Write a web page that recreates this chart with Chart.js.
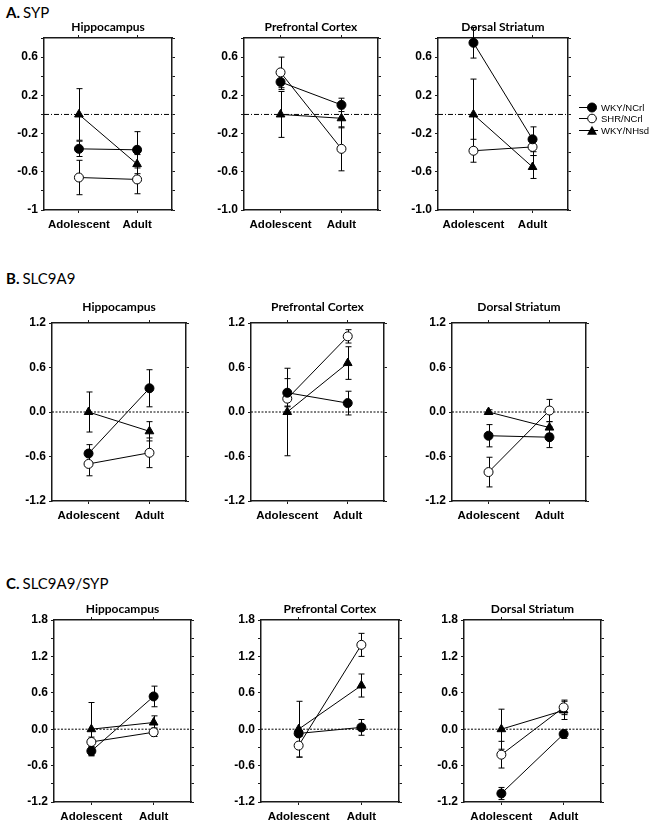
<!DOCTYPE html>
<html>
<head>
<meta charset="utf-8">
<script src="https://cdn.jsdelivr.net/npm/chart.js@4.4.1/dist/chart.umd.min.js"></script>
<style>
  body { margin: 0; background: #fff; width: 658px; height: 826px; position: relative; overflow: hidden; }
  canvas { position: absolute; }
  .plabel { position: absolute; left: 6px; font-family: Lato, "Noto Sans", sans-serif; font-size: 15px; line-height: 16px; color: #000; white-space: nowrap; }
  .plabel b { font-weight: bold; margin-right: 3px; }
  .leg { position: absolute; left: 579px; height: 11px; display: flex; align-items: center; font-family: "Liberation Sans", Arial, sans-serif; font-size: 9.5px; color: #000; z-index: 5; }
  .leg svg { display: block; margin-right: 1px; }
</style>
</head>
<body>
<script>
const ages = ["Adolescent", "Adult"];
const regions = ["Hippocampus", "Prefrontal Cortex", "Dorsal Striatum"];
const groups = ["WKY/NCrl", "SHR/NCrl", "WKY/NHsd"];

// every array: [Hip adolescent, Hip adult, PFC adolescent, PFC adult, DS adolescent, DS adult]
// A. SYP
const sypWkyNcrl = [-0.36, -0.37, 0.34, 0.10, 0.75, -0.26];
const sypShrNcrl = [-0.66, -0.68, 0.44, -0.36, -0.38, -0.34];
const sypWkyNhsd = [0.0, -0.52, 0.0, -0.04, 0.0, -0.55];
const sypWkyNcrlErr = [0.08, 0.19, 0.08, 0.07, 0.16, 0.13];
const sypShrNcrlErr = [0.18, 0.15, 0.16, 0.23, 0.12, 0.09];
const sypWkyNhsdErr = [0.27, 0.10, 0.24, 0.10, 0.37, 0.12];

// B. SLC9A9
const slcWkyNcrl = [-0.56, 0.32, 0.26, 0.12, -0.32, -0.34];
const slcShrNcrl = [-0.70, -0.55, 0.18, 1.02, -0.81, 0.02];
const slcWkyNhsd = [0.0, -0.26, 0.0, 0.66, 0.0, -0.21];
const slcWkyNcrlErr = [0.12, 0.25, 0.19, 0.16, 0.15, 0.14];
const slcShrNcrlErr = [0.16, 0.20, 0.10, 0.09, 0.20, 0.15];
const slcWkyNhsdErr = [0.27, 0.13, 0.59, 0.22, 0.03, 0.08];

// C. SLC9A9/SYP
const ratioWkyNcrl = [-0.36, 0.54, -0.07, 0.03, -1.06, -0.08];
const ratioShrNcrl = [-0.21, -0.05, -0.27, 1.39, -0.42, 0.36];
const ratioWkyNhsd = [0.0, 0.11, 0.0, 0.72, 0.0, 0.31];
const ratioWkyNcrlErr = [0.07, 0.17, 0.05, 0.13, 0.10, 0.07];
const ratioShrNcrlErr = [0.08, 0.07, 0.19, 0.19, 0.22, 0.12];
const ratioWkyNhsdErr = [0.44, 0.11, 0.46, 0.19, 0.33, 0.15];

// y tick labels
const sypTicks = [-1, -0.6, -0.2, 0.2, 0.6];
const sypTickLabelsHip = ["-1", "-0.6", "-0.2", "0.2", "0.6"];
const sypTickLabels = ["-1.0", "-0.6", "-0.2", "0.2", "0.6"];
const slcTicks = [-1.2, -0.6, 0, 0.6, 1.2];
const slcTickLabels = ["-1.2", "-0.6", "0.0", "0.6", "1.2"];
const ratioTicks = [-1.2, -0.6, 0, 0.6, 1.2, 1.8];
const ratioTickLabels = ["-1.2", "-0.6", "0.0", "0.6", "1.2", "1.8"];

const rows = [
  { head: ["A.", "SYP"], headTop: 4,
    means: [sypWkyNcrl, sypShrNcrl, sypWkyNhsd], errs: [sypWkyNcrlErr, sypShrNcrlErr, sypWkyNhsdErr],
    min: -1, max: 0.8, step: 0.2, ticks: sypTicks, tickLabels: [sypTickLabelsHip, sypTickLabels, sypTickLabels],
    titleGap: 1, dash: [5, 2, 1, 2],
    boxes: [[44, 38, 172, 210], [244, 38, 378, 210], [438, 38, 568, 210]] },
  { head: ["B.", "SLC9A9"], headTop: 270,
    means: [slcWkyNcrl, slcShrNcrl, slcWkyNhsd], errs: [slcWkyNcrlErr, slcShrNcrlErr, slcWkyNhsdErr],
    min: -1.2, max: 1.2, step: 0.6, ticks: slcTicks, tickLabels: [slcTickLabels, slcTickLabels, slcTickLabels],
    titleGap: 6, dash: [2, 1.5],
    boxes: [[52, 323, 186, 501], [251, 323, 384, 501], [452, 323, 586, 501]] },
  { head: ["C.", "SLC9A9/SYP"], headTop: 575,
    means: [ratioWkyNcrl, ratioShrNcrl, ratioWkyNhsd], errs: [ratioWkyNcrlErr, ratioShrNcrlErr, ratioWkyNhsdErr],
    min: -1.2, max: 1.8, step: 0.3, ticks: ratioTicks, tickLabels: [ratioTickLabels, ratioTickLabels, ratioTickLabels],
    titleGap: 1, dash: [2, 1.5],
    boxes: [[54, 620, 191, 802], [261, 620, 399, 802], [464, 620, 601, 802]] }
];

const markers = [
  { style: "circle", radius: 4.5, fill: "#000" },
  { style: "circle", radius: 4.5, fill: "#fff" },
  { style: "triangle", radius: 5, fill: "#000" }
];

const yFont = { family: "'Liberation Sans', Arial, sans-serif", weight: "bold", size: 12 };
const xFont = { family: "'Liberation Sans', Arial, sans-serif", weight: "bold", size: 11.5 };
const ink = "#1a1a1a";

// dotted reference line at zero
const zeroLine = {
  id: "zeroLine",
  beforeDatasetsDraw(chart, args, opts) {
    const { ctx, chartArea } = chart;
    const y = chart.scales.y.getPixelForValue(0);
    ctx.save();
    ctx.strokeStyle = "#000";
    ctx.lineWidth = 1;
    ctx.setLineDash(opts.dash || [2, 2]);
    ctx.beginPath();
    ctx.moveTo(chartArea.left, y);
    ctx.lineTo(chartArea.right, y);
    ctx.stroke();
    ctx.restore();
  }
};

// SEM bars behind the markers
const errorBars = {
  id: "errorBars",
  beforeDatasetsDraw(chart) {
    const { ctx } = chart;
    const ys = chart.scales.y;
    ctx.save();
    ctx.strokeStyle = "#000";
    ctx.lineWidth = 1;
    chart.data.datasets.forEach((ds, i) => {
      const meta = chart.getDatasetMeta(i);
      meta.data.forEach((pt, j) => {
        const v = ds.data[j].y, e = ds.errors[j];
        const x = Math.round(pt.x) + 0.5;
        const hi = ys.getPixelForValue(v + e), lo = ys.getPixelForValue(v - e);
        ctx.beginPath();
        ctx.moveTo(x, hi); ctx.lineTo(x, lo);
        ctx.moveTo(x - 3, hi); ctx.lineTo(x + 3, hi);
        ctx.moveTo(x - 3, lo); ctx.lineTo(x + 3, lo);
        ctx.stroke();
      });
    });
    ctx.restore();
  }
};

const gridOpts = { drawOnChartArea: false, tickLength: 3, tickColor: ink, tickWidth: 1 };
const borderOpts = { color: ink, width: 1.5 };

function makePanel(row, r) {
  const [l, t, rt, b] = row.boxes[r];
  const padTop = 4, titleSize = 12, topAxis = 4, XH = 26, YW = 36;
  const TT = padTop + titleSize + row.titleGap + topAxis;
  const c = document.createElement("canvas");
  c.width = (rt - l) + 2 * YW;
  c.height = TT + (b - t) + XH;
  c.style.left = (l - YW) + "px";
  c.style.top = (t - TT) + "px";
  document.body.appendChild(c);

  const labelFor = v => {
    const i = row.ticks.findIndex(tv => Math.abs(tv - v) < 1e-6);
    return i >= 0 ? row.tickLabels[r][i] : "";
  };
  const xTicks = s => { s.ticks = ages.map((a, j) => ({ value: j })); };

  const datasets = groups.map((g, k) => ({
    label: g,
    data: ages.map((a, j) => ({ x: j, y: row.means[k][2 * r + j] })),
    errors: ages.map((a, j) => row.errs[k][2 * r + j]),
    borderColor: "#000",
    borderWidth: 1,
    pointStyle: markers[k].style,
    pointRadius: markers[k].radius,
    pointBackgroundColor: markers[k].fill,
    pointBorderColor: "#000",
    pointBorderWidth: 1,
    tension: 0,
    clip: false
  }));

  new Chart(c, {
    type: "line",
    data: { datasets },
    plugins: [zeroLine, errorBars],
    options: {
      responsive: false,
      animation: false,
      layout: { padding: 0 },
      plugins: {
        legend: { display: false },
        tooltip: { enabled: false },
        title: {
          display: true, text: regions[r], color: "#000",
          font: { family: "Lato, 'Noto Sans', sans-serif", weight: "bold", size: titleSize, lineHeight: 1 },
          padding: { top: padTop, bottom: row.titleGap }
        },
        zeroLine: { dash: row.dash }
      },
      scales: {
        x: {
          type: "linear", position: "bottom", min: -0.6, max: 1.6,
          afterBuildTicks: xTicks,
          ticks: { callback: v => ages[v] ?? "", font: xFont, color: "#000", padding: 5, maxRotation: 0, autoSkip: false },
          grid: gridOpts, border: borderOpts,
          afterFit: s => { s.height = XH; }
        },
        xt: {
          type: "linear", position: "top", min: -0.6, max: 1.6,
          afterBuildTicks: xTicks,
          ticks: { display: false },
          grid: gridOpts, border: borderOpts,
          afterFit: s => { s.height = topAxis; }
        },
        y: {
          type: "linear", position: "left", min: row.min, max: row.max,
          ticks: { stepSize: row.step, callback: labelFor, font: yFont, color: "#000", padding: 3, autoSkip: false },
          grid: gridOpts, border: borderOpts,
          afterFit: s => { s.width = YW; }
        },
        yr: {
          type: "linear", position: "right", min: row.min, max: row.max,
          ticks: { stepSize: row.step, display: false, autoSkip: false },
          grid: gridOpts, border: borderOpts,
          afterFit: s => { s.width = YW; }
        }
      }
    }
  });
}

rows.forEach(row => {
  const h = document.createElement("div");
  h.className = "plabel";
  h.style.top = row.headTop + "px";
  h.innerHTML = "<b>" + row.head[0] + "</b>" + row.head[1];
  document.body.appendChild(h);
  regions.forEach((reg, r) => makePanel(row, r));
});

// legend beside the SYP dorsal striatum panel
const legendSvg = [
  '<line x1="0" y1="5.5" x2="14" y2="5.5" stroke="#000"/><circle cx="13" cy="5.5" r="4.5" fill="#000" stroke="#000"/>',
  '<line x1="0" y1="5.5" x2="18" y2="5.5" stroke="#000"/><circle cx="13" cy="5.5" r="4.3" fill="#fff" stroke="#000"/>',
  '<line x1="0" y1="5.5" x2="19" y2="5.5" stroke="#000"/><polygon points="13,0.8 8,9.8 18,9.8" fill="#000"/>'
];
groups.forEach((g, i) => {
  const d = document.createElement("div");
  d.className = "leg";
  d.style.top = (101.5 + i * 11.5) + "px";
  d.innerHTML = '<svg width="21" height="11">' + legendSvg[i] + '</svg><span>' + g + '</span>';
  document.body.appendChild(d);
});
</script>
</body>
</html>
